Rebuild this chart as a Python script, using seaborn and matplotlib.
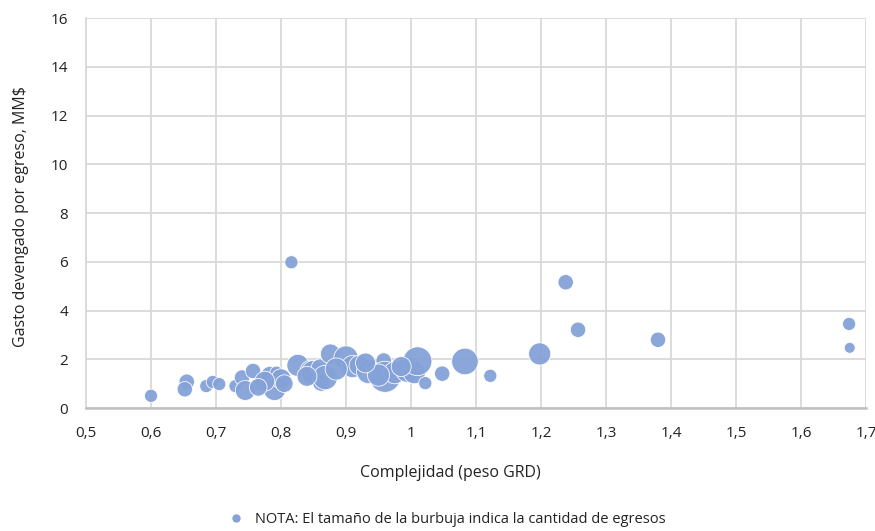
import pandas as pd
import matplotlib
matplotlib.use('Agg')
import matplotlib.pyplot as plt
from matplotlib.lines import Line2D
import seaborn as sns

# Complejidad (peso GRD) per hospital
complejidad = [0.600, 0.655, 0.652, 0.685, 0.695, 0.705, 0.730, 0.740, 0.745, 0.757,
               0.770, 0.783, 0.790, 0.793, 0.800, 0.816, 0.826, 0.845, 0.850, 0.860,
               0.862, 0.868, 0.876, 0.900, 0.910, 0.920, 0.935, 0.945, 0.958, 0.960,
               0.975, 0.995, 1.005, 1.010, 1.022, 1.048, 1.083, 1.122, 1.198, 1.238,
               1.257, 1.380, 1.674, 1.675,
               0.775, 0.765, 0.805, 0.840, 0.885, 0.950, 0.985, 0.930]
# Gasto devengado por egreso, MM$
gasto = [0.50, 1.08, 0.77, 0.90, 1.07, 0.98, 0.90, 1.25, 0.72, 1.52,
         1.00, 1.35, 0.76, 1.45, 1.20, 5.98, 1.75, 1.55, 1.45, 1.65,
         1.05, 1.25, 2.22, 2.05, 1.70, 1.75, 1.50, 1.65, 1.95, 1.28,
         1.45, 1.55, 1.45, 1.92, 1.02, 1.41, 1.91, 1.32, 2.22, 5.16,
         3.21, 2.80, 3.45, 2.47,
         1.10, 0.85, 1.00, 1.30, 1.60, 1.35, 1.70, 1.85]
# Cantidad de egresos (bubble size)
egresos = [360, 490, 490, 360, 360, 360, 360, 490, 810, 490,
           490, 640, 1000, 360, 810, 360, 1000, 810, 1210, 640,
           640, 1210, 810, 1210, 1000, 810, 1210, 640, 490, 1960,
           1000, 1210, 1000, 1690, 360, 490, 1440, 360, 1000, 490,
           490, 490, 360, 250,
           810, 640, 640, 810, 1000, 1000, 810, 810]

df = pd.DataFrame({'complejidad': complejidad, 'gasto': gasto, 'egresos': egresos})

sns.set_style('white')
plt.rcParams['font.family'] = ['Open Sans', 'DejaVu Sans']
color = '#85a2d8'
text_color = '#222222'

fig = plt.figure(figsize=(8.75, 5.31), dpi=100)
ax = fig.add_axes([0.0983, 0.2316, 0.8914, 0.7344])

sns.scatterplot(data=df, x='complejidad', y='gasto', size='egresos',
                sizes=(62, 500), size_norm=(250, 1960), color=color,
                edgecolor='white', linewidth=0.6, alpha=0.95, legend=False,
                ax=ax, zorder=3)

ax.set_xlim(0.5, 1.7)
ax.set_ylim(0, 16)
xticks = [0.5 + 0.1 * i for i in range(13)]
ax.set_xticks(xticks)
ax.set_xticklabels([f'{round(v, 1):g}'.replace('.', ',') for v in xticks])
ax.set_yticks(range(0, 17, 2))

ax.grid(True, color='#d9d9d9', linewidth=1.3, zorder=0)
ax.set_axisbelow(True)
for s in ['top', 'right']:
    ax.spines[s].set_visible(False)
ax.spines['left'].set_color('#d9d9d9')
ax.spines['left'].set_linewidth(1.3)
ax.spines['bottom'].set_color('#bfbfbf')
ax.spines['bottom'].set_linewidth(1.8)
ax.tick_params(axis='x', length=0, pad=13, labelsize=11, colors=text_color)
ax.tick_params(axis='y', length=0, pad=13, labelsize=11, colors=text_color)

ax.set_xlabel('Complejidad (peso GRD)', fontsize=11.5, color=text_color)
ax.xaxis.set_label_coords(0.467, -0.146)
ax.set_ylabel('Gasto devengado por egreso, MM$', fontsize=11.5, color=text_color)
ax.yaxis.set_label_coords(-0.073, 0.49)

handle = Line2D([], [], marker='o', linestyle='none', markersize=7,
                markerfacecolor=color, markeredgecolor='white')
fig.legend([handle], ['NOTA: El tamaño de la burbuja indica la cantidad de egresos'],
           loc='center', bbox_to_anchor=(0.507, 0.021), frameon=False,
           fontsize=10.5, handletextpad=0.3, labelcolor=text_color)

fig.savefig('out.png', dpi=100)
